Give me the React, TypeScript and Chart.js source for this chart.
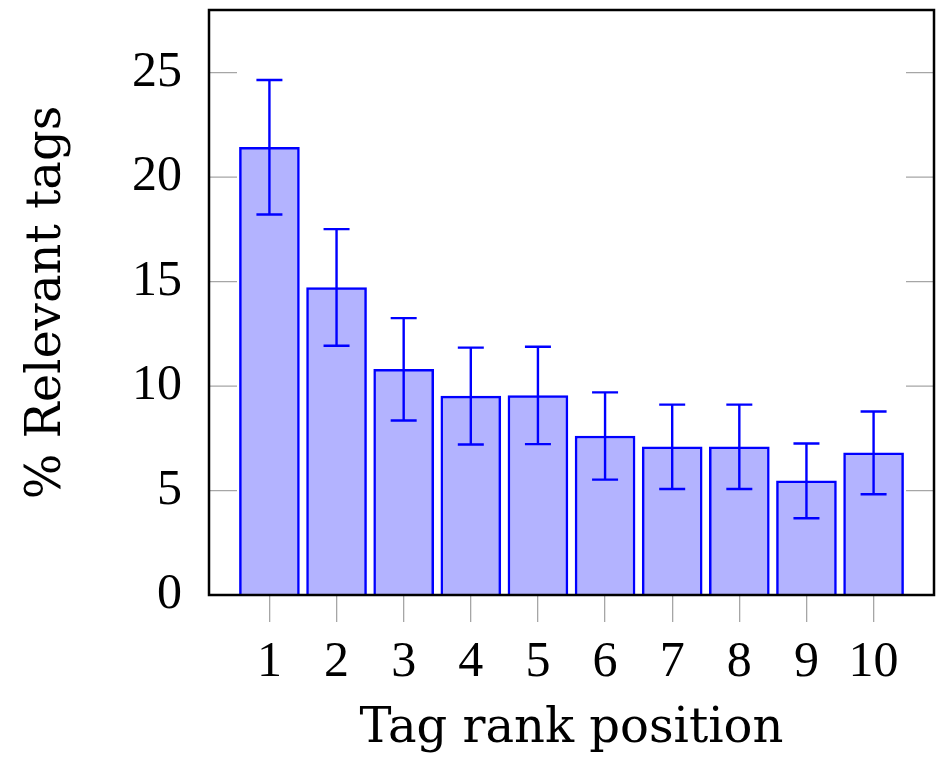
import React, { useEffect, useRef } from "react";
import { Chart, registerables } from "chart.js";

Chart.register(...registerables);

const categories = [1, 2, 3, 4, 5, 6, 7, 8, 9, 10];
const relevantPct = [21.43, 14.72, 10.8, 9.52, 9.55, 7.61, 7.09, 7.09, 5.46, 6.8];
const errorPct = [3.22, 2.79, 2.45, 2.32, 2.33, 2.09, 2.02, 2.02, 1.79, 1.98];
const yTickValues = [0, 5, 10, 15, 20, 25];
const xTitle = "Tag rank position";
const yTitle = "% Relevant tags";

const BLUE = "#0000ff";
const FILL = "rgb(179,179,255)";
const TICK_GRAY = "#a6a6a6";

const errorBarPlugin = {
  id: "errorBars",
  afterDatasetsDraw(chart: any) {
    const { ctx } = chart;
    const xs = chart.scales.x;
    const ys = chart.scales.y;
    ctx.save();
    ctx.strokeStyle = BLUE;
    ctx.lineWidth = 2.4;
    const cap = 13;
    categories.forEach((c, i) => {
      const x = xs.getPixelForValue(c);
      const yt = ys.getPixelForValue(relevantPct[i] + errorPct[i]);
      const yb = ys.getPixelForValue(relevantPct[i] - errorPct[i]);
      ctx.beginPath();
      ctx.moveTo(x, yt);
      ctx.lineTo(x, yb);
      ctx.moveTo(x - cap, yt);
      ctx.lineTo(x + cap, yt);
      ctx.moveTo(x - cap, yb);
      ctx.lineTo(x + cap, yb);
      ctx.stroke();
    });
    ctx.restore();
  },
};

const framePlugin = {
  id: "frame",
  beforeDatasetsDraw(chart: any) {
    const { ctx, chartArea } = chart;
    const ys = chart.scales.y;
    ctx.save();
    ctx.strokeStyle = TICK_GRAY;
    ctx.lineWidth = 1.3;
    yTickValues.forEach((v) => {
      const y = ys.getPixelForValue(v);
      ctx.beginPath();
      ctx.moveTo(chartArea.left, y);
      ctx.lineTo(chartArea.left + 28, y);
      ctx.moveTo(chartArea.right - 28, y);
      ctx.lineTo(chartArea.right, y);
      ctx.stroke();
    });
    ctx.restore();
  },
  afterDraw(chart: any) {
    const { ctx, chartArea } = chart;
    ctx.save();
    ctx.strokeStyle = "#000000";
    ctx.lineWidth = 2.5;
    ctx.strokeRect(
      chartArea.left,
      chartArea.top,
      chartArea.right - chartArea.left,
      chartArea.bottom - chartArea.top
    );
    ctx.restore();
  },
};

export default function App() {
  const ref = useRef<HTMLCanvasElement | null>(null);

  useEffect(() => {
    if (!ref.current) return;
    const chart = new Chart(ref.current, {
      type: "bar",
      data: {
        datasets: [
          {
            data: categories.map((c, i) => ({ x: c, y: relevantPct[i] })),
            backgroundColor: FILL,
            borderColor: BLUE,
            borderWidth: 2.5,
            barThickness: 60,
          } as any,
        ],
      },
      options: {
        animation: false,
        responsive: false,
        events: [],
        layout: { padding: { left: 0, right: 5, top: 10, bottom: 0 } },
        plugins: {
          legend: { display: false },
          tooltip: { enabled: false },
        },
        scales: {
          x: {
            type: "linear",
            min: 0.1,
            max: 10.9,
            offset: false,
            afterBuildTicks: (scale: any) => {
              scale.ticks = categories.map((v) => ({ value: v }));
            },
            afterFit: (scale: any) => {
              scale.height = 168;
              scale.paddingLeft = 0;
              scale.paddingRight = 0;
            },
            grid: {
              display: true,
              offset: false,
              drawOnChartArea: false,
              drawTicks: true,
              tickLength: 27,
              color: TICK_GRAY,
              lineWidth: 1.3,
            },
            border: { display: true, color: "#000", width: 2 },
            ticks: {
              padding: 11,
              color: "#000",
              maxRotation: 0,
              autoSkip: false,
              font: { family: "'Liberation Serif', serif", size: 50 },
              callback: (v: any) => String(v),
            },
            title: {
              display: true,
              text: xTitle,
              color: "#000",
              font: { family: "'DejaVu Serif', serif", size: 48 },
              padding: { top: 0, bottom: 5 },
            },
          },
          y: {
            type: "linear",
            min: 0,
            max: 28,
            afterBuildTicks: (scale: any) => {
              scale.ticks = yTickValues.map((v) => ({ value: v }));
            },
            afterFit: (scale: any) => {
              scale.width = 209;
              scale.paddingTop = 0;
              scale.paddingBottom = 0;
            },
            grid: { display: false, drawTicks: false },
            border: { display: true, color: "#000", width: 2 },
            ticks: {
              padding: 27,
              color: "#000",
              font: { family: "'Liberation Serif', serif", size: 50 },
              callback: (v: any) => String(v),
            },
            title: {
              display: true,
              text: yTitle,
              color: "#000",
              font: { family: "'DejaVu Serif', serif", size: 48 },
              padding: { top: 19, bottom: 0 },
            },
          },
        },
      },
      plugins: [framePlugin, errorBarPlugin],
    });
    return () => chart.destroy();
  }, []);

  return (
    <div style={{ position: "absolute", left: 0, top: 0, width: 939, height: 763, background: "#fff" }}>
      <canvas ref={ref} width={939} height={763} />
    </div>
  );
}
